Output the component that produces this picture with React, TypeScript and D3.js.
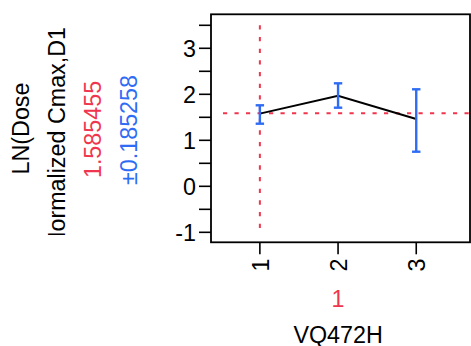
import React from "react";
import * as d3 from "d3";

const categories = ["1", "2", "3"];
const means = [1.58, 1.97, 1.463];
const lowers = [1.361, 1.709, 0.752];
const uppers = [1.761, 2.239, 2.109];
const yTicks = [-1, 0, 1, 2, 3];
const yMinorTicks = [-0.5, 0.5, 1.5, 2.5, 3.5];
const refMean = 1.585455;
const refLabel = "1.585455";
const refSdLabel = "±0.185258";
const yLabel1 = "LN(Dose";
const yLabel2 = "Normalized Cmax,D1";
const xGroupLabel = "1";
const xTitle = "VQ472H";

const RED = "#F0364E";
const BLUE = "#2E6CF5";
const FONT = "'Liberation Sans', Arial, sans-serif";
const FS = 23.3;

export default function App() {
  const W = 471, H = 346;
  const left = 211, right = 470, top = 14.3, bottom = 242.3;
  const x = d3.scaleLinear().domain([0.375, 3.6875]).range([left, right]);
  const y = d3.scaleLinear().domain([-1.217, 3.739]).range([bottom, top]);
  const xs = categories.map((c, i) => x(i + 1));
  const line = d3.line<number>().x((_, i) => xs[i]).y((d) => y(d));
  const capW = 4.2;
  return (
    <svg width={W} height={H} style={{ position: "absolute", left: 0, top: 0, background: "#fff" }} fontFamily={FONT}>
      <defs>
        <clipPath id="ylabclip">
          <rect x={0} y={0} width={200} height={235} />
        </clipPath>
      </defs>
      {/* y labels */}
      <text transform={`translate(28.5,128.5) rotate(-90)`} textAnchor="middle" fontSize={FS} fill="#000">{yLabel1}</text>
      <g clipPath="url(#ylabclip)">
        <text transform={`translate(64.5,27) rotate(-90)`} textAnchor="end" fontSize={FS} fill="#000">{yLabel2}</text>
      </g>
      <text transform={`translate(100.5,129.5) rotate(-90)`} textAnchor="middle" fontSize={FS} fill={RED}>{refLabel}</text>
      <text transform={`translate(137,130) rotate(-90)`} textAnchor="middle" fontSize={FS} fill={BLUE}>{refSdLabel}</text>

      {/* y ticks */}
      {yTicks.map((t) => (
        <g key={"yt" + t}>
          <line x1={left - 12} x2={left} y1={y(t)} y2={y(t)} stroke="#000" strokeWidth={1.6} />
          <text x={196} y={y(t)} dy="0.36em" textAnchor="end" fontSize={FS} fill="#000">{t}</text>
        </g>
      ))}
      {yMinorTicks.map((t) => (
        <line key={"ym" + t} x1={left - 12} x2={left} y1={y(t)} y2={y(t)} stroke="#000" strokeWidth={1.6} />
      ))}
      {/* x ticks */}
      {categories.map((c, i) => (
        <g key={"xt" + c}>
          <line x1={xs[i]} x2={xs[i]} y1={bottom} y2={bottom + 12} stroke="#000" strokeWidth={1.6} />
          <text transform={`translate(${xs[i] + 1},258.5) rotate(-90)`} dy="0.35em" textAnchor="end" fontSize={FS} fill="#000">{c}</text>
        </g>
      ))}
      <text x={x(2)} y={306.5} textAnchor="middle" fontSize={FS} fill={RED}>{xGroupLabel}</text>
      <text x={x(2)} y={342.5} textAnchor="middle" fontSize={FS} fill="#000">{xTitle}</text>

      {/* reference lines */}
      <line x1={left + 12} x2={right} y1={y(refMean)} y2={y(refMean)} stroke={RED} strokeWidth={2} strokeDasharray="4.2,7.3" />
      <line x1={x(1)} x2={x(1)} y1={y(3.5)} y2={y(-1)} stroke={RED} strokeWidth={2} strokeDasharray="4.3,7.37" />

      {/* mean line */}
      <path d={line(means) || ""} fill="none" stroke="#000" strokeWidth={2} />
      {/* error bars */}
      {categories.map((c, i) => (
        <g key={"eb" + c} stroke={BLUE} strokeWidth={2.4}>
          <line x1={xs[i]} x2={xs[i]} y1={y(lowers[i])} y2={y(uppers[i])} />
          <line x1={xs[i] - capW} x2={xs[i] + capW} y1={y(lowers[i])} y2={y(lowers[i])} />
          <line x1={xs[i] - capW} x2={xs[i] + capW} y1={y(uppers[i])} y2={y(uppers[i])} />
        </g>
      ))}
      {/* frame */}
      <rect x={left} y={top} width={right - left} height={bottom - top} fill="none" stroke="#000" strokeWidth={1.8} />
    </svg>
  );
}
